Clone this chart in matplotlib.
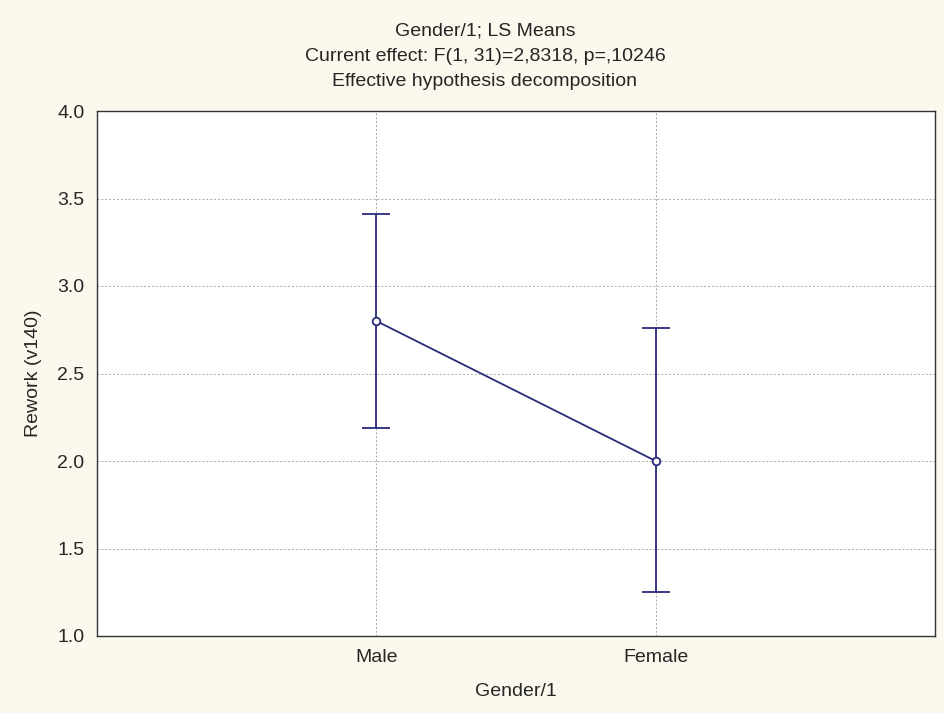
import matplotlib.pyplot as plt
import numpy as np

plt.rcParams['font.family'] = ['Liberation Sans', 'DejaVu Sans']

# data
groups = ["Male", "Female"]
means = [2.80, 2.00]
upper = [3.41, 2.76]
lower = [2.19, 1.25]

title_lines = ["Gender/1; LS Means",
               "Current effect: F(1, 31)=2,8318, p=,10246",
               "Effective hypothesis decomposition"]

x = np.arange(1, len(groups) + 1)
err = [np.array(means) - np.array(lower), np.array(upper) - np.array(means)]

W, H = 945, 713
fig = plt.figure(figsize=(W / 100, H / 100), dpi=100, facecolor="#fbf8ee")
ax = fig.add_axes([97 / W, 1 - 636 / H, 838 / W, 525 / H])
ax.set_facecolor("white")

navy = "#2a2a7a"
ax.errorbar(x, means, yerr=err, color=navy, lw=1.3, capsize=10, capthick=1.3,
            marker="o", markersize=5.5, markerfacecolor="white",
            markeredgecolor=navy, markeredgewidth=1.3, zorder=3)

ax.set_xlim(0, 3)
ax.set_ylim(1.0, 4.0)
ax.set_yticks(np.arange(1.0, 4.01, 0.5))
ax.set_xticks(x)
ax.set_xticklabels(groups)
ax.tick_params(length=0, labelsize=14, colors="#262626")
ax.tick_params(axis="x", pad=9)
ax.tick_params(axis="y", pad=9)
ax.yaxis.set_major_formatter(plt.FormatStrFormatter("%.1f"))

ax.grid(True, color="#a8a8a8", linestyle=(0, (2, 2)), lw=0.7)
for s in ax.spines.values():
    s.set_color("#333333")
    s.set_linewidth(1.0)

# axis titles
fig.text(516 / W, 1 - 692 / H, "Gender/1", ha="center", va="center",
         fontsize=14, color="#262626")
fig.text(33 / W, 1 - 373 / H, "Rework (v140)", ha="center", va="center",
         rotation=90, fontsize=14, color="#262626")

for i, line in enumerate(title_lines):
    fig.text(485 / W, 1 - (31 + 25.5 * i) / H, line, ha="center",
             va="center", fontsize=14, color="#262626")

plt.savefig("out.png", dpi=100, facecolor=fig.get_facecolor())
plt.close()
